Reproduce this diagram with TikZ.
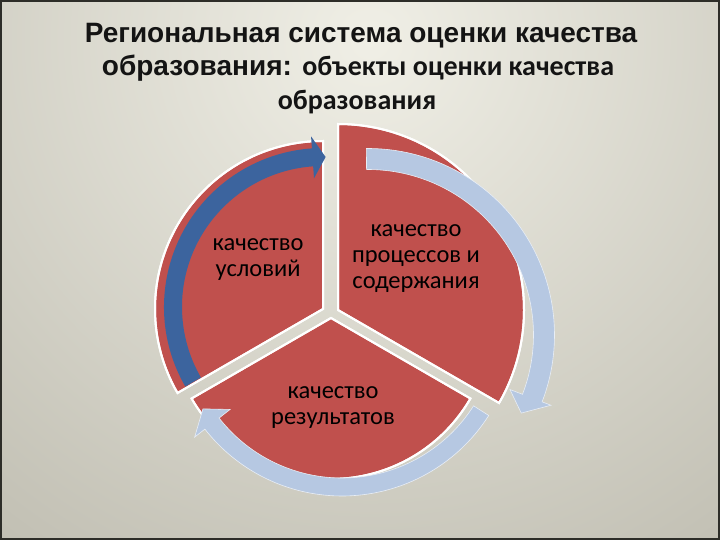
\documentclass[tikz,border=0pt]{standalone}
\usepackage{fontspec}
\setmainfont{Liberation Sans}
\newfontfamily\carl{Carlito}
\definecolor{sectorred}{RGB}{192,80,77}
\definecolor{darkarrow}{RGB}{60,100,158}
\definecolor{lightarrow}{RGB}{182,200,226}
\definecolor{bginner}{RGB}{240,239,230}
\definecolor{bgouter}{RGB}{150,147,132}
\definecolor{frame}{RGB}{45,45,40}
\begin{document}
\begin{tikzpicture}[x=1pt,y=-1pt,
  sector/.style={fill=sectorred,draw=white,line width=2pt,line join=miter},
  darkarr/.style={fill=darkarrow},
  lightarr/.style={fill=lightarrow,draw={rgb,255:red,232;green,238;blue,246},line width=0.6pt},
  bodytext/.style={font=\carl\fontsize{24.5}{26}\selectfont,align=center,text=black,inner sep=0pt},
  titletext/.style={inner sep=0pt,text={rgb,255:red,20;green,20;blue,20}}]
\useasboundingbox (0,0) rectangle (720,540);
\begin{scope}
  \clip (0,0) rectangle (720,540);
  \shade[inner color=bginner,outer color=bgouter] (370,40) circle (1200);
\end{scope}
\draw[frame,line width=2pt] (1,1) rectangle (719,539);

% title
\node[titletext] (t1) at (361,36) {\bfseries\fontsize{28}{34}\selectfont Региональная система оценки качества};
\node[titletext] (t2) at (358,68) {\bfseries\fontsize{28}{34}\selectfont образования: {\carl\fontsize{28}{32}\selectfont объекты оценки качества}};
\node[titletext] (t3) at (357,102) {\carl\bfseries\fontsize{28}{32}\selectfont образования};

% sectors
\coordinate (LA) at (323,309);
\coordinate (RA) at (338,310);
\coordinate (BA) at (331,318);
\fill[sector] (LA) -- ++(270:168) arc[start angle=270,end angle=150,radius=168] -- cycle;
\fill[sector] (RA) -- ++(-90:186) arc[start angle=-90,end angle=30,radius=186] -- cycle;
\fill[sector] (BA) -- ++(30:161) arc[start angle=30,end angle=150,radius=161] -- cycle;
\draw[sector,fill=none] (LA) -- ++(270:168) arc[start angle=270,end angle=150,radius=168] -- cycle;
\draw[sector,fill=none] (RA) -- ++(-90:186) arc[start angle=-90,end angle=30,radius=186] -- cycle;
\draw[sector,fill=none] (BA) -- ++(30:161) arc[start angle=30,end angle=150,radius=161] -- cycle;

% arrows
\begin{scope}[shift={(323,307)}]
  \fill[darkarr] (150:159) arc[start angle=150,end angle=266,radius=159] -- (266:171) -- (271:150) -- (266:129) -- (266:141) arc[start angle=266,end angle=150,radius=141] -- cycle;
\end{scope}
\begin{scope}[shift={(368,335)}]
  \filldraw[lightarr] (-90.5:186.5) arc[start angle=-90.5,end angle=21,radius=186.5] -- (21:196) -- (27:172) -- (21:152) -- (21:165.5) arc[start angle=21,end angle=-90.5,radius=165.5] -- cycle;
\end{scope}
\begin{scope}[shift={(342,322)}]
  \filldraw[lightarr] (32.5:174) arc[start angle=32.5,end angle=142,radius=174] -- (142:187) -- (148:164) -- (142:142) -- (142:156) arc[start angle=142,end angle=32.5,radius=156] -- cycle;
\end{scope}

% labels
\node[bodytext] (cond) at (258,260) {качество\\условий};
\node[bodytext] (proc) at (416,259) {качество\\процессов и\\содержания};
\node[bodytext] (res) at (333,408) {качество\\результатов};
\end{tikzpicture}
\end{document}
